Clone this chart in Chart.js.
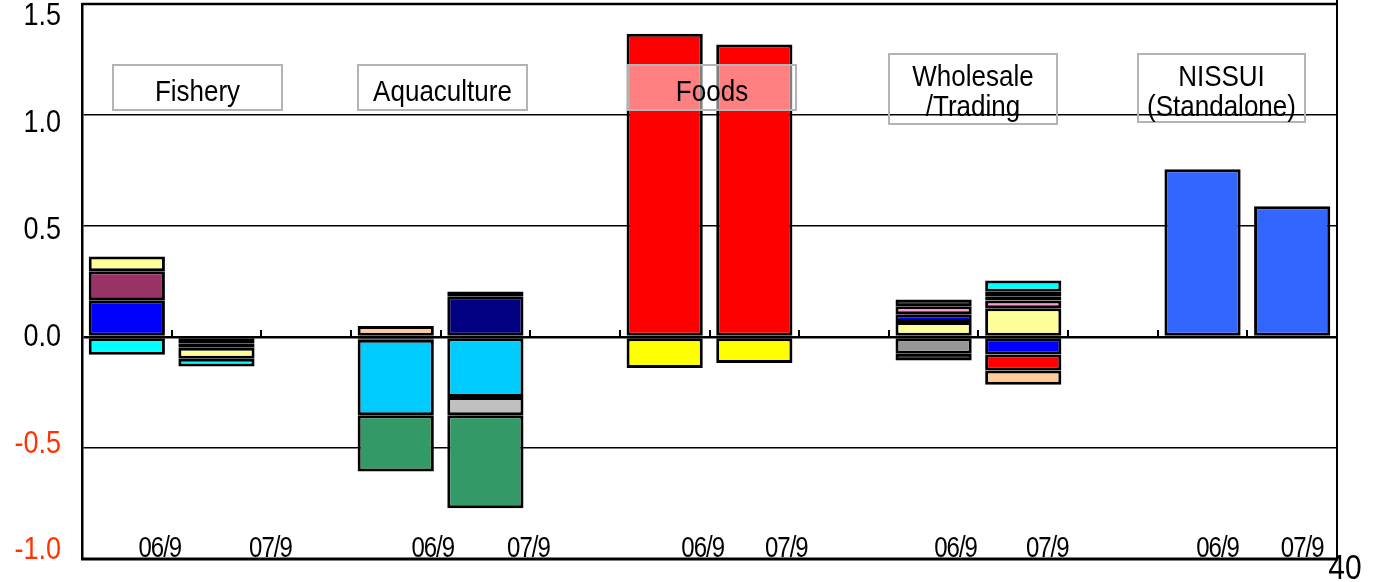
<!DOCTYPE html>
<html>
<head>
<meta charset="utf-8">
<script src="https://cdn.jsdelivr.net/npm/chart.js@4/dist/chart.umd.min.js"></script>
<style>
  html, body { margin: 0; padding: 0; background: #ffffff; }
  #wrap { position: relative; width: 1376px; height: 582px; }
</style>
</head>
<body>
<div id="wrap"><canvas id="c" width="1376" height="582"></canvas></div>
<script>
// Category slots: two periods per segment, with an empty slot between segments
const periods = ['06/9', '07/9', '', '06/9', '07/9', '', '06/9', '07/9', '', '06/9', '07/9', '', '06/9', '07/9'];
const segmentNames = ['Fishery', 'Aquaculture', 'Foods', 'Wholesale\n/Trading', 'NISSUI\n(Standalone)'];
const segmentStart = [0, 3, 6, 9, 12];
const yTicks = [-1.0, -0.5, 0.0, 0.5, 1.0, 1.5];

// Fishery components [06/9, 07/9]
const fishBlue   = [0.166, -0.028];
const fishPurple = [0.130, -0.020];
const fishCream  = [0.067, -0.050];
const fishCyan   = [-0.080, -0.035];

// Aquaculture components
const aquaNavy   = [null, 0.184];
const aquaBlack  = [-0.012, 0.021];
const aquaSky    = [-0.340, -0.270];
const aquaSilver = [null, -0.083];
const aquaGreen  = [-0.254, -0.418];
const aquaPeach  = [0.050, null];

// Foods components
const foodRed    = [1.366, 1.318];
const foodYellow = [-0.140, -0.117];

// Wholesale / Trading components
const wsCream = [0.068, 0.130];
const wsGray  = [-0.076, null];
const wsBlue  = [0.034, -0.079];
const wsRed   = [null, -0.072];
const wsPink  = [0.037, 0.034];
const wsBlack = [0.030, 0.020];
const wsSlate = [null, 0.020];
const wsCyan  = [null, 0.050];
const wsPeach = [null, -0.064];
const wsDark  = [-0.030, null];

// NISSUI standalone
const nissuiBlue = [0.756, 0.589];

// Series in stacking order, with the segment they belong to and their fill
const series = [
  { name: 'fishBlue',   values: fishBlue,   seg: 0, color: '#0000FF' },
  { name: 'fishPurple', values: fishPurple, seg: 0, color: '#993366' },
  { name: 'fishCream',  values: fishCream,  seg: 0, color: '#FFFF99' },
  { name: 'fishCyan',   values: fishCyan,   seg: 0, color: '#00FFFF' },
  { name: 'aquaNavy',   values: aquaNavy,   seg: 1, color: '#000080' },
  { name: 'aquaBlack',  values: aquaBlack,  seg: 1, color: '#000000' },
  { name: 'aquaSky',    values: aquaSky,    seg: 1, color: '#00CCFF' },
  { name: 'aquaSilver', values: aquaSilver, seg: 1, color: '#C0C0C0' },
  { name: 'aquaGreen',  values: aquaGreen,  seg: 1, color: '#339966' },
  { name: 'aquaPeach',  values: aquaPeach,  seg: 1, color: '#FFCC99' },
  { name: 'foodRed',    values: foodRed,    seg: 2, color: '#FF0000' },
  { name: 'foodYellow', values: foodYellow, seg: 2, color: '#FFFF00' },
  { name: 'wsCream',    values: wsCream,    seg: 3, color: '#FFFF99' },
  { name: 'wsGray',     values: wsGray,     seg: 3, color: '#969696' },
  { name: 'wsBlue',     values: wsBlue,     seg: 3, color: '#0000FF' },
  { name: 'wsRed',      values: wsRed,      seg: 3, color: '#FF0000' },
  { name: 'wsPink',     values: wsPink,     seg: 3, color: '#FF99CC' },
  { name: 'wsBlack',    values: wsBlack,    seg: 3, color: '#000000' },
  { name: 'wsSlate',    values: wsSlate,    seg: 3, color: '#808080' },
  { name: 'wsCyan',     values: wsCyan,     seg: 3, color: '#00FFFF' },
  { name: 'wsPeach',    values: wsPeach,    seg: 3, color: '#FFCC99' },
  { name: 'wsDark',     values: wsDark,     seg: 3, color: '#000000' },
  { name: 'nissuiBlue', values: nissuiBlue, seg: 4, color: '#3366FF' }
];

function spread(values, seg) {
  const out = periods.map(() => null);
  out[segmentStart[seg]] = values[0];
  out[segmentStart[seg] + 1] = values[1];
  return out;
}

const datasets = series.map(s => ({
  label: s.name,
  data: spread(s.values, s.seg),
  backgroundColor: s.color,
  borderColor: '#000000',
  borderWidth: 3,
  borderSkipped: false,
  barPercentage: 0.85,
  categoryPercentage: 1.0
}));

const FONT = '"Liberation Sans", Arial, sans-serif';

// Text drawn slightly taller than the font's natural proportions
function tallText(ctx, text, x, y, sy) {
  ctx.save();
  ctx.translate(x, y);
  ctx.scale(1, sy);
  ctx.fillText(text, 0, 0);
  ctx.restore();
}

// Grid frame, tick marks on the zero line and all text drawn on the canvas
const decorations = {
  id: 'decorations',
  beforeDatasetsDraw(chart) {
    const { ctx, scales: { x, y } } = chart;
    const zero = y.getPixelForValue(0);
    ctx.save();
    ctx.strokeStyle = '#000';
    ctx.lineWidth = 2;
    for (let i = 1; i < periods.length; i++) {
      const bx = Math.round((x.getPixelForValue(i - 1) + x.getPixelForValue(i)) / 2);
      ctx.beginPath();
      ctx.moveTo(bx, zero);
      ctx.lineTo(bx, zero - 7);
      ctx.stroke();
    }
    ctx.restore();
  },
  afterDatasetsDraw(chart) {
    const { ctx, chartArea: a, scales: { x, y } } = chart;
    ctx.save();

    // outer frame: top, right and bottom axis
    ctx.strokeStyle = '#000';
    ctx.lineWidth = 2.5;
    ctx.beginPath();
    ctx.moveTo(a.left, a.top);
    ctx.lineTo(a.right, a.top);
    ctx.stroke();
    ctx.lineWidth = 2;
    ctx.beginPath();
    ctx.moveTo(a.right, 0);
    ctx.lineTo(a.right, a.bottom + 1);
    ctx.stroke();
    ctx.lineWidth = 3;
    ctx.beginPath();
    ctx.moveTo(a.left - 1, a.bottom);
    ctx.lineTo(a.right + 1, a.bottom);
    ctx.stroke();

    // value axis labels
    const zero = y.getPixelForValue(0);
    ctx.font = '27px ' + FONT;
    ctx.textAlign = 'right';
    ctx.textBaseline = 'middle';
    yTicks.forEach(v => {
      const py = zero + (y.getPixelForValue(v) - zero) * 0.962;
      ctx.fillStyle = v < 0 ? '#FF3300' : '#000000';
      tallText(ctx, v.toFixed(1), 61, py, 1.18);
    });

    // period labels along the bottom
    const shift = [33, 54, 0, 37, 43, 0, 38, 32, 0, 22, 24, 0, 15, 10];
    ctx.fillStyle = '#000';
    ctx.font = '24px ' + FONT;
    ctx.textAlign = 'center';
    ctx.textBaseline = 'alphabetic';
    try { ctx.letterSpacing = '-1px'; } catch (e) {}
    periods.forEach((p, i) => {
      if (!p) return;
      tallText(ctx, p, x.getPixelForValue(i) + shift[i], a.bottom - 2, 1.2);
    });
    try { ctx.letterSpacing = '0px'; } catch (e) {}

    // segment name boxes
    const boxes = [
      { x: 113,  y: 65, w: 169, h: 45, fill: null, base: [101] },
      { x: 358,  y: 65, w: 169, h: 45, fill: null, base: [101] },
      { x: 628,  y: 65, w: 168, h: 45, fill: 'rgba(255,255,255,0.5)', base: [101] },
      { x: 889,  y: 54, w: 168, h: 70, fill: null, base: [86, 116] },
      { x: 1138, y: 54, w: 167, h: 68, fill: null, base: [86, 116] }
    ];
    ctx.font = '26px ' + FONT;
    boxes.forEach((b, i) => {
      if (b.fill) {
        ctx.fillStyle = b.fill;
        ctx.fillRect(b.x, b.y, b.w, b.h);
      }
      ctx.strokeStyle = '#B4B4B4';
      ctx.lineWidth = 2;
      ctx.strokeRect(b.x, b.y, b.w, b.h);
      ctx.fillStyle = '#000';
      segmentNames[i].split('\n').forEach((line, k) => {
        tallText(ctx, line, b.x + b.w / 2, b.base[k], 1.15);
      });
    });

    // page number
    ctx.font = '30px ' + FONT;
    tallText(ctx, '40', 1345, 579, 1.15);

    ctx.restore();
  }
};

new Chart(document.getElementById('c'), {
  type: 'bar',
  data: { labels: periods, datasets },
  options: {
    responsive: false,
    animation: false,
    events: [],
    layout: { padding: { left: 0, top: 4, right: 39, bottom: 23 } },
    plugins: { legend: { display: false }, tooltip: { enabled: false }, title: { display: false } },
    scales: {
      x: {
        stacked: true,
        display: false,
        offset: true
      },
      y: {
        stacked: true,
        min: -1.0,
        max: 1.5,
        afterFit(scale) { scale.width = 82; },
        afterBuildTicks(scale) { scale.ticks = yTicks.map(v => ({ value: v })); },
        ticks: { display: false },
        border: { display: true, color: '#000000', width: 2.5 },
        grid: {
          color: '#000000',
          drawTicks: false,
          lineWidth: c => (c.tick && c.tick.value === 0 ? 2.4 : 1.6)
        }
      }
    }
  },
  plugins: [decorations]
});
</script>
</body>
</html>
